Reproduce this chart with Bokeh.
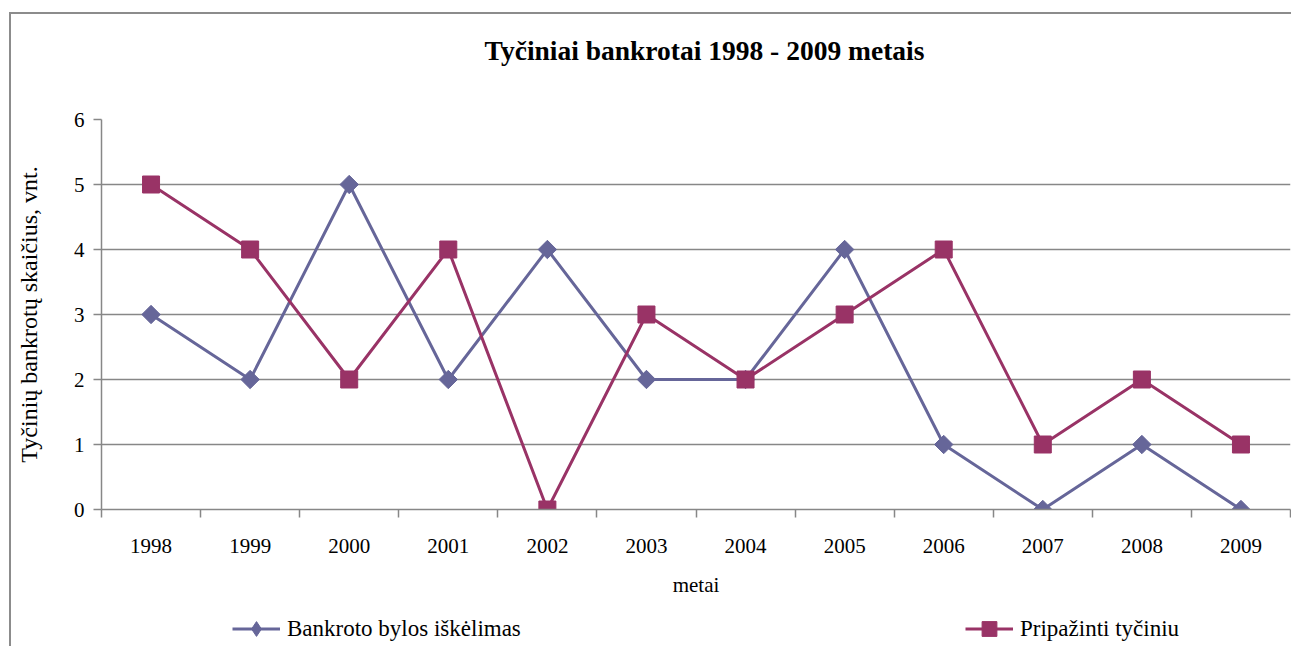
from bokeh.plotting import figure
from bokeh.models import FixedTicker, Range1d, Legend, LegendItem, Label, InlineStyleSheet
from bokeh.layouts import column
from bokeh.embed import file_html
from bokeh.resources import INLINE
import numpy as np

years = ["1998", "1999", "2000", "2001", "2002", "2003", "2004", "2005", "2006", "2007", "2008", "2009"]
bankroto = [3, 2, 5, 2, 4, 2, 2, 4, 1, 0, 1, 0]
pripazinti = [5, 4, 2, 4, 0, 3, 2, 3, 4, 1, 2, 1]
y_ticks = [0, 1, 2, 3, 4, 5, 6]

title = "Tyčiniai bankrotai 1998 - 2009 metais"
y_label = "Tyčinių bankrotų skaičius, vnt."
x_label = "metai"
series_names = ["Bankroto bylos iškėlimas", "Pripažinti tyčiniu"]

FONT = "Liberation Serif"
GRID = "#878787"
C1 = "#666699"
C2 = "#993366"

x = list(range(1, len(years) + 1))


def strip(h):
    s = figure(width=1291, height=h, output_backend="svg", toolbar_location=None,
               x_range=Range1d(-100, -99), y_range=Range1d(-100, -99),
               x_axis_type=None, y_axis_type=None,
               min_border_left=0, min_border_right=0, min_border_top=0, min_border_bottom=0)
    s.outline_line_color = None
    s.grid.grid_line_color = None
    return s


# title strip
t = strip(80)
t.add_layout(Label(x=603, y=30, x_units="screen", y_units="screen", text=title,
                   text_font=FONT, text_font_size="27.5px", text_font_style="bold",
                   text_color="black", text_align="center", text_baseline="middle"))

# main chart
p = figure(width=1291, height=520, output_backend="svg", toolbar_location=None,
           x_range=Range1d(0.5, len(years) + 0.5), y_range=Range1d(y_ticks[0], y_ticks[-1]),
           min_border_left=101, min_border_right=1, min_border_top=39, min_border_bottom=91)

p.outline_line_color = None
p.background_fill_color = "white"

p.xgrid.grid_line_color = None
p.ygrid.grid_line_color = GRID
p.ygrid.grid_line_width = 1.5

p.yaxis.ticker = FixedTicker(ticks=y_ticks)
p.yaxis.axis_line_color = GRID
p.yaxis.axis_line_width = 1.5
p.yaxis.major_tick_line_color = GRID
p.yaxis.major_tick_line_width = 1.5
p.yaxis.major_tick_out = 8
p.yaxis.major_tick_in = 0
p.yaxis.minor_tick_line_color = None
p.yaxis.major_label_text_font = FONT
p.yaxis.major_label_text_font_size = "21px"
p.yaxis.major_label_text_color = "black"
p.yaxis.major_label_standoff = 9
p.yaxis.axis_label = y_label
p.yaxis.axis_label_text_font = FONT
p.yaxis.axis_label_text_font_size = "24px"
p.yaxis.axis_label_text_font_style = "normal"
p.yaxis.axis_label_text_color = "black"
p.yaxis.axis_label_standoff = 29

minor = [i + 0.5 for i in range(len(years) + 1)]
p.xaxis.ticker = FixedTicker(ticks=x, minor_ticks=minor)
p.xaxis.major_label_overrides = {xi: yr for xi, yr in zip(x, years)}
p.xaxis.axis_line_color = GRID
p.xaxis.axis_line_width = 1.5
p.xaxis.major_tick_line_color = None
p.xaxis.major_tick_out = 0
p.xaxis.major_tick_in = 0
p.xaxis.minor_tick_line_color = GRID
p.xaxis.minor_tick_line_width = 1.5
p.xaxis.minor_tick_out = 8
p.xaxis.minor_tick_in = 0
p.xaxis.major_label_text_font = FONT
p.xaxis.major_label_text_font_size = "21px"
p.xaxis.major_label_text_color = "black"
p.xaxis.major_label_standoff = 21
p.xaxis.axis_label = x_label
p.xaxis.axis_label_text_font = FONT
p.xaxis.axis_label_text_font_size = "21px"
p.xaxis.axis_label_text_font_style = "normal"
p.xaxis.axis_label_text_color = "black"
p.xaxis.axis_label_standoff = 17

DIAMOND = dict(marker="square", angle=np.pi / 4, size=13, fill_color=C1, line_color=C1, line_width=1)
SQUARE = dict(marker="square", size=17, fill_color=C2, line_color=C2, line_width=1)

p.line(x, bankroto, line_color=C1, line_width=3)
p.scatter(x, bankroto, **DIAMOND)
p.line(x, pripazinti, line_color=C2, line_width=3)
p.scatter(x, pripazinti, **SQUARE)

# legend strip below the chart (its glyphs lie outside its visible ranges)
q = strip(46)
ql1 = q.line(x, bankroto, line_color=C1, line_width=3)
qm1 = q.scatter(x, bankroto, marker="diamond", size=13, fill_color=C1, line_color=C1, line_width=1)
ql2 = q.line(x, pripazinti, line_color=C2, line_width=3)
qm2 = q.scatter(x, pripazinti, **SQUARE)

common = dict(orientation="horizontal", glyph_width=48, glyph_height=37, label_standoff=7,
              label_text_font=FONT, label_text_font_size="23px", label_text_color="black",
              border_line_color=None, background_fill_alpha=0, margin=0, padding=0)
leg1 = Legend(items=[LegendItem(label=series_names[0], renderers=[ql1, qm1])],
              location=(131, -1), **common)
leg2 = Legend(items=[LegendItem(label=series_names[1], renderers=[ql2, qm2])],
              location=(864, -1), **common)
q.add_layout(leg1, "center")
q.add_layout(leg2, "center")

frame_css = InlineStyleSheet(css="""
:host::after {
  content: "";
  position: absolute;
  left: 9px; top: 12px; right: 0; bottom: 0;
  border-left: 2px solid #8c8c8c;
  border-top: 2px solid #8c8c8c;
  pointer-events: none;
  z-index: 10;
}
""")

layout = column(t, p, q, spacing=0, stylesheets=[frame_css])
open("out.html", "w").write(file_html(layout, INLINE))
